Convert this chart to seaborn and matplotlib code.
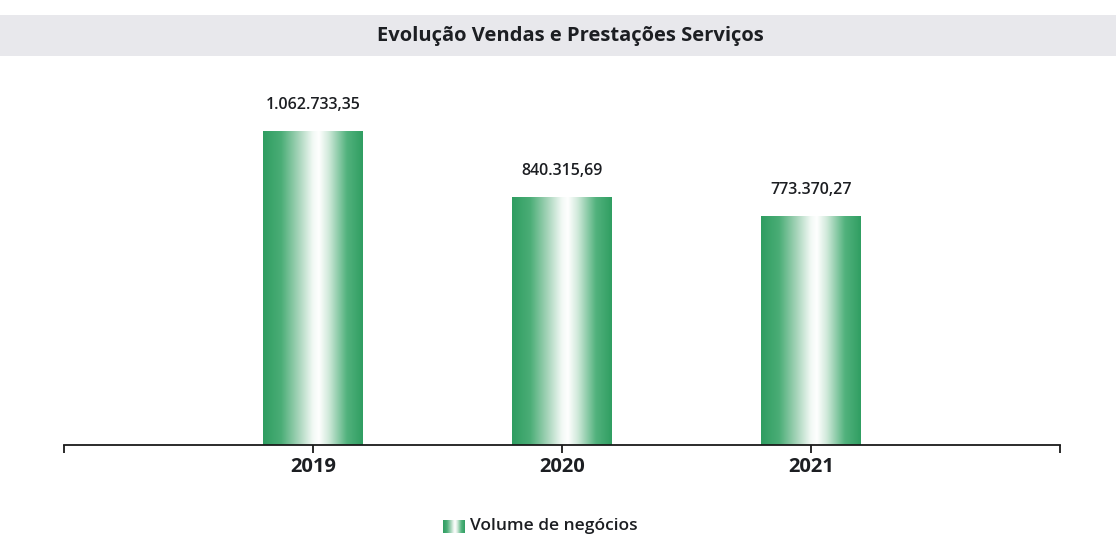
import numpy as np
import pandas as pd
import matplotlib
matplotlib.use("Agg")
import matplotlib.pyplot as plt
from matplotlib.colors import LinearSegmentedColormap
from matplotlib.patches import Rectangle
import seaborn as sns

# Sales and service revenue per year (EUR)
years = ["2019", "2020", "2021"]
values = [1062733.35, 840315.69, 773370.27]
series_name = "Volume de negócios"
title = "Evolução Vendas e Prestações Serviços"

sns.set_theme(style="white")
plt.rcParams["font.family"] = ["Open Sans", "DejaVu Sans"]

TEXT = "#1c1e22"

# Cylinder-like shading: green edges, soft white highlight slightly right of centre
shade = LinearSegmentedColormap.from_list(
    "cyl",
    [(0.00, "#2f9d61"), (0.18, "#4aad76"), (0.36, "#a8d5bb"),
     (0.50, "#f2f9f5"), (0.56, "#ffffff"), (0.66, "#d0e9da"),
     (0.84, "#52b27d"), (1.00, "#309e62")],
)
grad = np.linspace(0, 1, 256).reshape(1, -1)


def fmt_pt(v):
    s = f"{v:,.2f}"
    return s.replace(",", "X").replace(".", ",").replace("X", ".")


df = pd.DataFrame({"ano": years, "valor": values})

fig = plt.figure(figsize=(11.16, 5.41), dpi=100)
fig.patch.set_facecolor("white")

# Grey title band across the top
fig.patches.append(Rectangle((0, 1 - 56 / 541), 1, 41 / 541, transform=fig.transFigure,
                             facecolor="#e8e8ec", edgecolor="none", zorder=0))
fig.text(0.511, 1 - 36 / 541, title, ha="center", va="center",
         fontsize=14.5, fontweight="bold", color=TEXT)

ax = fig.add_axes([64 / 1116, 1 - 445 / 541, 996 / 1116, 365 / 541])
sns.barplot(data=df, x="ano", y="valor", ax=ax, width=0.4, color="#2f9d61",
            saturation=1, legend=False)

ymax = values[0] * 365 / 314

for patch, v in zip(ax.patches, values):
    x0, y0 = patch.get_x(), patch.get_y()
    w, h = patch.get_width(), patch.get_height()
    im = ax.imshow(grad, cmap=shade, aspect="auto", extent=(x0, x0 + w, y0, y0 + h),
                   interpolation="bicubic", zorder=2)
    im.set_clip_path(patch)
    patch.set_facecolor("none")
    patch.set_edgecolor("none")
    ax.annotate(fmt_pt(v), (x0 + w / 2, y0 + h), xytext=(0, 13), textcoords="offset points",
                ha="center", va="bottom", fontsize=11.5, fontweight="semibold", color=TEXT)

ax.set_xlim(-1, 3)
ax.set_ylim(0, ymax)

for s in ["left", "right", "top"]:
    ax.spines[s].set_visible(False)
ax.spines["bottom"].set_color("#1a1a1a")
ax.spines["bottom"].set_linewidth(1.3)
ax.set_yticks([])
ax.set_xticks([-1, 0, 1, 2, 3])
ax.set_xticklabels(["", *years, ""])
ax.tick_params(axis="x", direction="out", length=6, width=1.3, color="#1a1a1a",
               labelsize=14.5, labelcolor=TEXT, pad=3, bottom=True)
for lbl in ax.get_xticklabels():
    lbl.set_fontweight("bold")
ax.set_xlabel("")
ax.set_ylabel("")

# Legend: shaded swatch plus series name
icon = fig.add_axes([443 / 1116, 1 - 533 / 541, 22 / 1116, 13 / 541])
icon.imshow(grad, cmap=shade, aspect="auto", extent=(0, 1, 0, 1), interpolation="bicubic")
icon.set_axis_off()
fig.text(470 / 1116, 1 - 526 / 541, series_name, ha="left", va="center",
         fontsize=12.5, fontweight="semibold", color=TEXT)

fig.savefig("out.png", dpi=100, facecolor="white")
